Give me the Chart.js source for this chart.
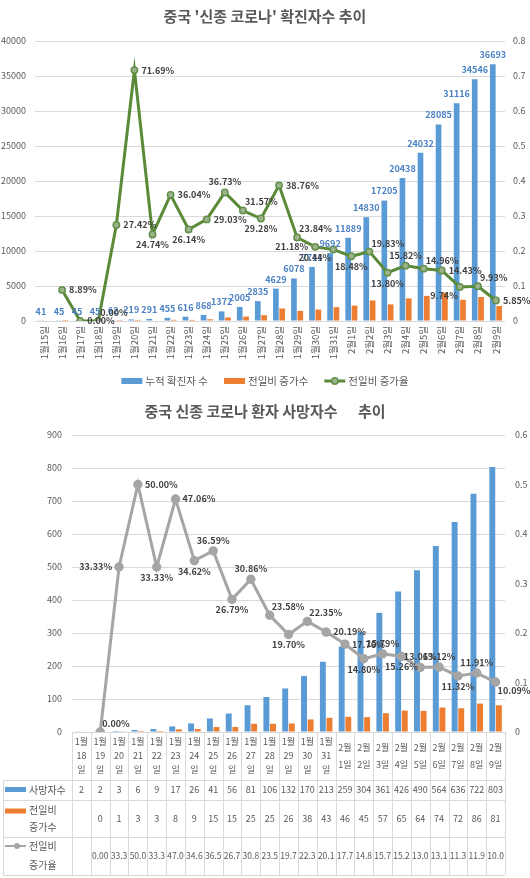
<!DOCTYPE html>
<html>
<head>
<meta charset="utf-8">
<script src="https://cdn.jsdelivr.net/npm/chart.js@4"></script>
<style>
body{margin:0;background:#fff;width:530px;height:878px;overflow:hidden}
canvas{display:block}
</style>
</head>
<body>
<canvas id="c1" width="530" height="395"></canvas>
<canvas id="c2" width="530" height="483"></canvas>
<script>
const FONT = "'Noto Sans CJK KR', 'Noto Sans', sans-serif"
const TXT = '#595959'
const GRID = '#D9D9D9'
const BLUE = '#5B9BD5'
const ORANGE = '#ED7D31'

// ---- chart 1 : 확진자수
const title1 = "중국 '신종 코로나' 확진자수 추이"
const days1 = ['1월15일','1월16일','1월17일','1월18일','1월19일','1월20일','1월21일','1월22일','1월23일',
  '1월24일','1월25일','1월26일','1월27일','1월28일','1월29일','1월30일','1월31일',
  '2월1일','2월2일','2월3일','2월4일','2월5일','2월6일','2월7일','2월8일','2월9일']
const confirmed = [41,45,45,45,62,219,291,455,616,868,1372,2005,2835,4629,6078,7711,9692,
  11889,14830,17205,20438,24032,28085,31116,34546,36693]
const confirmedNew = [null,4,0,0,17,157,72,164,161,252,504,633,830,1794,1449,1633,1981,
  2197,2941,2375,3233,3594,4053,3031,3430,2147]
const confirmedRate = [null,0.0889,0,0,0.2742,0.7169,0.2474,0.3604,0.2614,0.2903,0.3673,0.3157,0.2928,
  0.3876,0.2384,0.2118,0.2044,0.1848,0.1983,0.1380,0.1582,0.1496,0.1443,0.0974,0.0993,0.0585]
// where each % label sits around its point
const place1 = [null,'r','r','ar','r','r','b','r','b','r','a','ar','b','r','ar','l','bl',
  'b','ar','b','a','ar','r','bl','ar','r']

// ---- chart 2 : 사망자수
const title2 = '중국 신종 코로나 환자 사망자수      추이'
const days2 = ['1월18일','1월19일','1월20일','1월21일','1월22일','1월23일','1월24일','1월25일',
  '1월26일','1월27일','1월28일','1월29일','1월30일','1월31일',
  '2월1일','2월2일','2월3일','2월4일','2월5일','2월6일','2월7일','2월8일','2월9일']
const deaths = [2,2,3,6,9,17,26,41,56,81,106,132,170,213,259,304,361,426,490,564,636,722,803]
const deathsNew = [null,0,1,3,3,8,9,15,15,25,25,26,38,43,46,45,57,65,64,74,72,86,81]
const deathsRate = [null,0,0.3333,0.5,0.3333,0.4706,0.3462,0.3659,0.2679,0.3086,0.2358,0.1970,
  0.2235,0.2019,0.1776,0.1480,0.1579,0.1526,0.1306,0.1312,0.1132,0.1191,0.1009]
const place2 = [null,'ar','l','r','b','r','b','a','b','a','ar','b','ar','r','r',
  'b','a','b','a','a','b','a','br']

function drawRateLabels(chart, dsIndex, places){
  const ctx = chart.ctx
  const meta = chart.getDatasetMeta(dsIndex)
  const vals = chart.data.datasets[dsIndex].data
  ctx.save()
  ctx.font = 'bold 9px ' + FONT
  ctx.fillStyle = '#404040'
  meta.data.forEach((pt, i) => {
    const v = vals[i]
    if (v == null) return
    const p = places[i] || 'r'
    let x = pt.x, y = pt.y, align = 'center', base = 'middle'
    if (p == 'r'){ x += 7; align = 'left' }
    if (p == 'l'){ x -= 7; align = 'right' }
    if (p == 'a'){ y -= 6; base = 'bottom' }
    if (p == 'b'){ y += 6; base = 'top' }
    if (p == 'ar'){ x += 2; y -= 4; align = 'left'; base = 'bottom' }
    if (p == 'br'){ x += 2; y += 4; align = 'left'; base = 'top' }
    if (p == 'bl'){ x -= 2; y += 4; align = 'right'; base = 'top' }
    ctx.textAlign = align
    ctx.textBaseline = base
    ctx.fillText((v * 100).toFixed(2) + '%', x, y)
  })
  ctx.restore()
}

function drawTitle(chart, text){
  const ctx = chart.ctx
  ctx.save()
  ctx.font = 'bold 15px ' + FONT
  ctx.fillStyle = TXT
  ctx.textAlign = 'center'
  ctx.textBaseline = 'middle'
  ctx.fillText(text, 265, 16)
  ctx.restore()
}

const tickFont = {size: 9.5, family: FONT}
const yFont = {size: 9, family: FONT}

const chart1Plugin = {
  id: 'chart1Extras',
  afterDatasetsDraw(chart){
    const ctx = chart.ctx
    drawTitle(chart, title1)
    // blue value labels over the cumulative bars
    const meta = chart.getDatasetMeta(0)
    ctx.save()
    ctx.font = 'bold 9px ' + FONT
    ctx.fillStyle = '#4A80C4'
    ctx.textAlign = 'center'
    ctx.textBaseline = 'bottom'
    meta.data.forEach((bar, i) => {
      ctx.fillText(String(confirmed[i]), bar.x, bar.y - 5)
    })
    ctx.restore()
    drawRateLabels(chart, 2, place1)

    // legend
    const ds = chart.data.datasets
    ctx.save()
    ctx.font = '10.5px ' + FONT
    const sym = 21, gap = 3, sep = 16
    let total = 0
    ds.forEach((d, i) => { total += sym + gap + ctx.measureText(d.label).width + (i < ds.length - 1 ? sep : 0) })
    let x = 265 - total / 2
    const y = 381
    ds.forEach(d => {
      if (d.type == 'line'){
        ctx.strokeStyle = d.borderColor
        ctx.lineWidth = 3
        ctx.beginPath(); ctx.moveTo(x, y); ctx.lineTo(x + sym, y); ctx.stroke()
        ctx.fillStyle = d.pointBackgroundColor
        ctx.strokeStyle = d.pointBorderColor
        ctx.lineWidth = 1.5
        ctx.beginPath(); ctx.arc(x + sym / 2, y, 3.2, 0, Math.PI * 2); ctx.fill(); ctx.stroke()
      } else {
        ctx.fillStyle = d.backgroundColor
        ctx.fillRect(x, y - 3, sym, 6)
      }
      x += sym + gap
      ctx.fillStyle = TXT
      ctx.textAlign = 'left'
      ctx.textBaseline = 'middle'
      ctx.fillText(d.label, x, y)
      x += ctx.measureText(d.label).width + sep
    })
    ctx.restore()
  }
}

new Chart(document.getElementById('c1'), {
  type: 'bar',
  data: {
    labels: days1,
    datasets: [
      {label: '누적 확진자 수', data: confirmed, backgroundColor: BLUE, yAxisID: 'y', order: 2,
        categoryPercentage: 0.7, barPercentage: 0.9},
      {label: '전일비 증가수', data: confirmedNew, backgroundColor: ORANGE, yAxisID: 'y', order: 3,
        categoryPercentage: 0.7, barPercentage: 0.9},
      {type: 'line', label: '전일비 증가율', data: confirmedRate, yAxisID: 'y1', order: 1,
        borderColor: '#5A8A38', borderWidth: 3, tension: 0,
        pointRadius: 3.2, pointBackgroundColor: '#9DB38A', pointBorderColor: '#62904A', pointBorderWidth: 1.5}
    ]
  },
  options: {
    responsive: false,
    animation: false,
    layout: {padding: {top: 41, left: 0, right: 0, bottom: 0}},
    plugins: {legend: {display: false}, tooltip: {enabled: false}},
    scales: {
      x: {
        grid: {display: false, drawTicks: false}, border: {display: false},
        ticks: {color: TXT, font: tickFont, minRotation: 90, maxRotation: 90, autoSkip: false, padding: 5},
        afterFit(s){ s.height = 74 }
      },
      y: {
        min: 0, max: 40000,
        grid: {color: GRID, drawTicks: false}, border: {display: false},
        ticks: {stepSize: 5000, color: TXT, font: yFont, padding: 9, callback: v => String(v)},
        afterFit(s){ s.width = 35 }
      },
      y1: {
        position: 'right', min: 0, max: 0.8,
        grid: {display: false, drawTicks: false}, border: {display: false},
        ticks: {stepSize: 0.1, color: TXT, font: yFont, padding: 8, callback: v => v == 0 ? '0' : v.toFixed(1)},
        afterFit(s){ s.width = 25 }
      }
    }
  },
  plugins: [chart1Plugin]
})

// ---- chart 2 with data table underneath
const chart2Plugin = {
  id: 'chart2Extras',
  afterDatasetsDraw(chart){
    drawTitle(chart, title2)
    drawRateLabels(chart, 2, place2)
  },
  afterDraw(chart){
    const ctx = chart.ctx
    const a = chart.chartArea
    const xs = chart.scales.x
    const n = chart.data.labels.length
    const w = (a.right - a.left) / n
    const rowY = [a.bottom + 48, a.bottom + 68, a.bottom + 105, a.bottom + 143]
    const x0 = 3
    ctx.save()
    ctx.strokeStyle = GRID
    ctx.lineWidth = 1
    ctx.beginPath()
    rowY.forEach(y => { ctx.moveTo(x0, Math.round(y) + 0.5); ctx.lineTo(a.right, Math.round(y) + 0.5) })
    for (let i = 0; i <= n; i++){
      const x = Math.round(a.left + i * w) + 0.5
      ctx.moveTo(x, a.bottom); ctx.lineTo(x, rowY[3])
    }
    ctx.moveTo(x0 + 0.5, rowY[0]); ctx.lineTo(x0 + 0.5, rowY[3])
    ctx.stroke()

    ctx.fillStyle = TXT
    ctx.textAlign = 'center'
    ctx.textBaseline = 'middle'
    // header: date labels
    ctx.font = '9px ' + FONT
    days2.forEach((d, i) => {
      const x = xs.getPixelForValue(i)
      const m = d.match(/(\d+월)(\d+)(일)/)
      if (m[1] == '1월'){
        ctx.fillText(m[1], x, a.bottom + 10)
        ctx.fillText(m[2], x, a.bottom + 24)
        ctx.fillText(m[3], x, a.bottom + 38)
      } else {
        ctx.fillText(m[1], x, a.bottom + 16)
        ctx.fillText(m[2] + m[3], x, a.bottom + 33)
      }
    })
    // rows
    const c1 = (rowY[0] + rowY[1]) / 2, c2 = (rowY[1] + rowY[2]) / 2, c3 = (rowY[2] + rowY[3]) / 2
    ctx.font = '9px ' + FONT
    deaths.forEach((v, i) => ctx.fillText(String(v), xs.getPixelForValue(i), c1))
    deathsNew.forEach((v, i) => { if (v != null) ctx.fillText(String(v), xs.getPixelForValue(i), c2) })
    ctx.font = '8.5px ' + FONT
    deathsRate.forEach((v, i) => {
      if (v == null) return
      const s = v == 0 ? '0.00' : (Math.floor(v * 1000 + 1e-6) / 10).toFixed(1)
      ctx.fillText(s, xs.getPixelForValue(i), c3)
    })

    // row headers with legend keys
    const ds = chart.data.datasets
    ctx.font = '10px ' + FONT
    ctx.textAlign = 'left'
    ctx.fillStyle = ds[0].backgroundColor
    ctx.fillRect(5, c1 - 3, 21, 5)
    ctx.fillStyle = TXT
    ctx.fillText(ds[0].label, 29, c1)

    ctx.fillStyle = ds[1].backgroundColor
    ctx.fillRect(5, c2 - 10, 21, 5)
    ctx.fillStyle = TXT
    const l2 = ds[1].label.split(' ')
    ctx.fillText(l2[0], 29, c2 - 8)
    ctx.fillText(l2[1], 29, c2 + 9)

    ctx.strokeStyle = ds[2].borderColor
    ctx.lineWidth = 2
    ctx.beginPath(); ctx.moveTo(5, c3 - 10); ctx.lineTo(26, c3 - 10); ctx.stroke()
    ctx.fillStyle = ds[2].borderColor
    ctx.beginPath(); ctx.arc(17, c3 - 10, 3, 0, Math.PI * 2); ctx.fill()
    ctx.fillStyle = TXT
    const l3 = ds[2].label.split(' ')
    ctx.fillText(l3[0], 29, c3 - 10)
    ctx.fillText(l3[1], 29, c3 + 9)
    ctx.restore()
  }
}

new Chart(document.getElementById('c2'), {
  type: 'bar',
  data: {
    labels: days2,
    datasets: [
      {label: '사망자수', data: deaths, backgroundColor: BLUE, yAxisID: 'y', order: 2,
        categoryPercentage: 0.7, barPercentage: 0.9},
      {label: '전일비 증가수', data: deathsNew, backgroundColor: ORANGE, yAxisID: 'y', order: 3,
        categoryPercentage: 0.7, barPercentage: 0.9},
      {type: 'line', label: '전일비 증가율', data: deathsRate, yAxisID: 'y1', order: 1,
        borderColor: '#A5A5A5', borderWidth: 3, tension: 0,
        pointRadius: 3.2, pointBackgroundColor: '#A5A5A5', pointBorderColor: '#A5A5A5'}
    ]
  },
  options: {
    responsive: false,
    animation: false,
    layout: {padding: {top: 40, left: 0, right: 0, bottom: 0}},
    plugins: {legend: {display: false}, tooltip: {enabled: false}},
    scales: {
      x: {
        grid: {display: false, drawTicks: false}, border: {display: false},
        ticks: {display: false},
        afterFit(s){ s.height = 146 }
      },
      y: {
        min: 0, max: 900,
        grid: {color: GRID, drawTicks: false}, border: {display: false},
        ticks: {stepSize: 100, color: TXT, font: yFont, padding: 10, callback: v => String(v)},
        afterFit(s){ s.width = 72 }
      },
      y1: {
        position: 'right', min: 0, max: 0.6,
        grid: {display: false, drawTicks: false}, border: {display: false},
        ticks: {stepSize: 0.1, color: TXT, font: yFont, padding: 10, callback: v => v == 0 ? '0' : v.toFixed(1)},
        afterFit(s){ s.width = 25 }
      }
    }
  },
  plugins: [chart2Plugin]
})
</script>
</body>
</html>
